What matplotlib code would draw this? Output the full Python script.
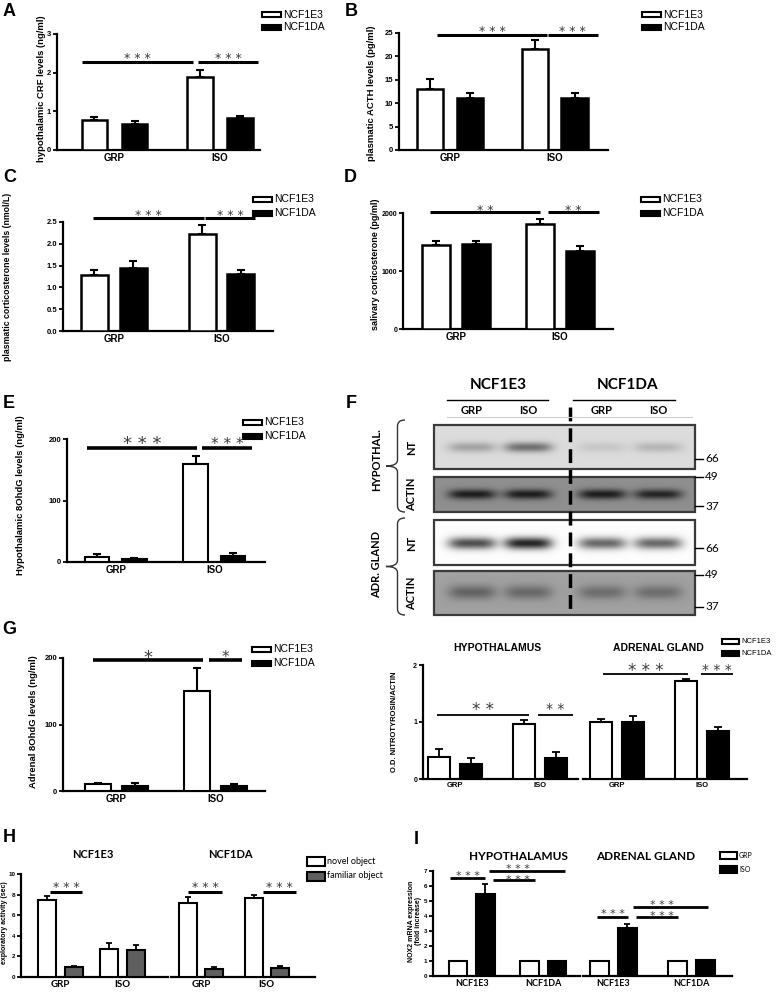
import numpy as np
import matplotlib
matplotlib.use("Agg")
import matplotlib.pyplot as plt
import matplotlib.transforms as mtransforms
from matplotlib.patches import Rectangle, PathPatch
from matplotlib.path import Path

W, H = 777, 999
plt.rcParams['font.family'] = ['Liberation Sans', 'DejaVu Sans']

# ------------------------------------------------------------------ data
stress_groups = ["GRP", "ISO"]
strain_names = ["NCF1E3", "NCF1DA"]
legend_strain = ["NCF1E3", "NCF1DA"]

crf_e3, crf_e3_err = [0.78, 1.88], [0.08, 0.20]
crf_da, crf_da_err = [0.67, 0.83], [0.08, 0.06]

acth_e3, acth_e3_err = [13.0, 21.5], [2.2, 2.0]
acth_da, acth_da_err = [11.1, 11.1], [1.0, 1.0]

cort_e3, cort_e3_err = [1.28, 2.22], [0.13, 0.20]
cort_da, cort_da_err = [1.45, 1.30], [0.15, 0.11]

saliv_e3, saliv_e3_err = [1450, 1810], [60, 90]
saliv_da, saliv_da_err = [1470, 1350], [40, 80]

hypo8_e3, hypo8_e3_err = [8, 160], [5, 13]
hypo8_da, hypo8_da_err = [5, 10], [2, 4]

adr8_e3, adr8_e3_err = [10, 150], [2, 35]
adr8_da, adr8_da_err = [7, 8], [5, 3]

nt_hypo_e3, nt_hypo_e3_err = [0.38, 0.96], [0.15, 0.07]
nt_hypo_da, nt_hypo_da_err = [0.26, 0.36], [0.11, 0.12]
nt_adr_e3, nt_adr_e3_err = [1.00, 1.72], [0.06, 0.04]
nt_adr_da, nt_adr_da_err = [1.00, 0.84], [0.10, 0.07]

# western blot band darkness (lanes: E3 GRP, E3 ISO, DA GRP, DA ISO)
blot_lanes = ["GRP", "ISO", "GRP", "ISO"]
blot_nt_hypo = [0.22, 0.42, 0.08, 0.15]
blot_actin_hypo = [0.45, 0.45, 0.45, 0.42]
blot_nt_adr = [0.68, 0.85, 0.58, 0.58]
blot_actin_adr = [0.24, 0.22, 0.20, 0.20]
mw_markers = ["66", "49", "37", "66", "49", "37"]

nor_labels = ["novel object", "familiar object"]
nor_e3_novel, nor_e3_novel_err = [7.5, 2.7], [0.35, 0.6]
nor_e3_fam, nor_e3_fam_err = [0.95, 2.6], [0.15, 0.5]
nor_da_novel, nor_da_novel_err = [7.2, 7.65], [0.55, 0.35]
nor_da_fam, nor_da_fam_err = [0.8, 0.9], [0.15, 0.15]

nox_strains = ["NCF1E3", "NCF1DA"]
nox_legend = ["GRP", "ISO"]
nox_hypo_grp, nox_hypo_grp_err = [1.0, 1.0], [0.0, 0.0]
nox_hypo_iso, nox_hypo_iso_err = [5.5, 1.0], [0.65, 0.0]
nox_adr_grp, nox_adr_grp_err = [1.0, 1.0], [0.0, 0.0]
nox_adr_iso, nox_adr_iso_err = [3.2, 1.05], [0.3, 0.0]

# ------------------------------------------------------------------ figure
fig = plt.figure(figsize=(W / 100, H / 100), dpi=100)
ov = fig.add_axes([0, 0, 1, 1])
ov.set_xlim(0, W)
ov.set_ylim(H, 0)
ov.axis('off')
ov.set_zorder(-1)


def add_ax(x0, y0, x1, y1):
    ax = fig.add_axes([x0 / W, 1 - y1 / H, (x1 - x0) / W, (y1 - y0) / H])
    ax.patch.set_visible(False)
    return ax


def style(ax, xlim, ymax, yticks=None, ytl=None, lw=1.6, tfs=5.5, xlabels=None,
          xfs=7, xfont=None, show_left=True):
    ax.set_xlim(*xlim)
    ax.set_ylim(0, ymax)
    ax.spines['top'].set_visible(False)
    ax.spines['right'].set_visible(False)
    ax.spines['bottom'].set_linewidth(lw)
    if show_left:
        ax.spines['left'].set_linewidth(lw)
        ax.set_yticks(yticks)
        if ytl is not None:
            ax.set_yticklabels(ytl)
        ax.tick_params(axis='y', length=3, width=lw * 0.8, labelsize=tfs, pad=1.2)
        for t in ax.get_yticklabels():
            t.set_fontweight('bold')
    else:
        ax.spines['left'].set_visible(False)
        ax.set_yticks([])
    ax.set_xticks(range(len(xlabels)))
    kw = dict(fontsize=xfs, fontweight='bold')
    if xfont:
        kw['family'] = xfont
    ax.set_xticklabels(xlabels, **kw)
    ax.tick_params(axis='x', length=0, pad=2.5)


def pair_bars(ax, a, a_err, b, b_err, off, width, ca='white', cb='black',
              elw=1.8, errlw=1.5, cap=3):
    idx = np.arange(len(a))
    for vals, errs, col, sgn in ((a, a_err, ca, -1), (b, b_err, cb, 1)):
        x = idx + sgn * off
        ax.errorbar(x, vals, yerr=[np.zeros(len(vals)), errs], fmt='none',
                    ecolor='black', elinewidth=errlw, capsize=cap, capthick=errlw,
                    zorder=2)
        ax.bar(x, vals, width, color=col, edgecolor='black', linewidth=elw, zorder=3)


def sig(ax, x0, x1, y, ty, stars, lw=2.2, fs=9, col='#3a3a3a', tx=None):
    ax.plot([x0, x1], [y, y], color='black', lw=lw, solid_capstyle='butt',
            clip_on=False, zorder=4)
    tr = mtransforms.offset_copy(ax.transData, fig=fig, x=0, y=-0.59 * fs,
                                 units='points')
    if tx is None:
        tx = (x0 + x1) / 2
    ax.text(tx, ty, stars, transform=tr, ha='center', va='baseline', fontsize=fs,
            color=col, family='DejaVu Sans', clip_on=False, zorder=4)


def legend_px(x, ys, labels, colors, pw=19, ph=5, fs=7.5, font=None, lw=1.5, gap=2):
    for y, lab, c in zip(ys, labels, colors):
        ov.add_patch(Rectangle((x, y - ph / 2), pw, ph, facecolor=c,
                               edgecolor='black', lw=lw))
        kw = dict(fontsize=fs, va='center', ha='left')
        if font:
            kw['family'] = font
        ov.text(x + pw + gap, y, lab, **kw)


def letter(x, y, s):
    ov.text(x, y, s, fontsize=13, fontweight='bold', ha='center', va='center')


def ylab(x, y, s, fs=6.8, font=None):
    kw = dict(rotation=90, ha='center', va='center', fontsize=fs, fontweight='bold',
              multialignment='center', linespacing=1.0)
    if font:
        kw['family'] = font
    ov.text(x, y, s, **kw)


# ------------------------------------------------------------------ A
ax = add_ax(57, 34, 260, 150)
pair_bars(ax, crf_e3, crf_e3_err, crf_da, crf_da_err, 0.19, 0.24)
style(ax, (-0.545, 1.379), 3, [0, 1, 2, 3], xlabels=stress_groups)
sig(ax, -0.31, 0.744, 2.28, 2.46, '* * *')
sig(ax, 0.79, 1.36, 2.28, 2.46, '* * *')
legend_px(262, [14.5, 27.5], legend_strain, ['white', 'black'])
ylab(42, 89, "hypothalamic CRF levels (ng/ml)")
letter(9, 12, 'A')

# ------------------------------------------------------------------ B
ax = add_ax(399, 33, 608, 150)
pair_bars(ax, acth_e3, acth_e3_err, acth_da, acth_da_err, 0.19, 0.25)
style(ax, (-0.49, 1.51), 25, [0, 5, 10, 15, 20, 25], xlabels=stress_groups)
sig(ax, -0.127, 0.926, 24.6, 26.1, '* * *')
sig(ax, 0.936, 1.41, 24.6, 26.1, '* * *')
legend_px(642, [14.5, 27.5], legend_strain, ['white', 'black'])
ylab(371, 93, "plasmatic ACTH levels (pg/ml)")
letter(351, 12, 'B')

# ------------------------------------------------------------------ C
ax = add_ax(63, 222, 273, 331)
pair_bars(ax, cort_e3, cort_e3_err, cort_da, cort_da_err, 0.18, 0.25)
style(ax, (-0.47, 1.478), 2.5, [0, 0.5, 1.0, 1.5, 2.0, 2.5],
      ['0.0', '0.5', '1.0', '1.5', '2.0', '2.5'], xlabels=stress_groups)
sig(ax, -0.19, 0.838, 2.59, 2.73, '* * *')
sig(ax, 0.849, 1.31, 2.59, 2.73, '* * *')
legend_px(253, [199.5, 213.5], legend_strain, ['white', 'black'])
ylab(8, 277, "plasmatic corticosterone levels (nmol/L)", fs=6.3)
letter(10, 178, 'C')

# ------------------------------------------------------------------ D
ax = add_ax(403, 213, 613, 329)
pair_bars(ax, saliv_e3, saliv_e3_err, saliv_da, saliv_da_err, 0.19, 0.27)
style(ax, (-0.51, 1.51), 2000, [0, 1000, 2000], xlabels=stress_groups, tfs=5)
sig(ax, -0.25, 0.81, 2017, 2103, '* *')
sig(ax, 0.885, 1.375, 2017, 2103, '* *')
legend_px(641, [199.5, 213.5], legend_strain, ['white', 'black'])
ylab(376, 264, "salivary corticosterone (pg/ml)", fs=6.5)
letter(350, 178, 'D')

# ------------------------------------------------------------------ E
ax = add_ax(67, 439, 265, 562)
pair_bars(ax, hypo8_e3, hypo8_e3_err, hypo8_da, hypo8_da_err, 0.19, 0.25, elw=1.5)
style(ax, (-0.495, 1.515), 200, [0, 100, 200], xlabels=stress_groups)
sig(ax, -0.29, 0.825, 185, 201.6, '* * *', lw=2.6, fs=13)
sig(ax, 0.876, 1.384, 185, 199, '* * *', lw=2.6, fs=11)
legend_px(243, [422, 436], legend_strain, ['white', 'black'])
ylab(21, 495, "Hypothalamic 8OhdG levels (ng/ml)")
letter(9, 403, 'E')

# ------------------------------------------------------------------ G
ax = add_ax(63, 658, 265, 791)
pair_bars(ax, adr8_e3, adr8_e3_err, adr8_da, adr8_da_err, 0.19, 0.26, elw=1.5)
style(ax, (-0.54, 1.50), 200, [0, 100, 200], xlabels=stress_groups)
sig(ax, -0.238, 0.876, 197, 209, '*', lw=2.6, fs=13)
sig(ax, 0.937, 1.27, 197, 207, '*', lw=2.6, fs=11)
legend_px(252, [649.5, 663.5], legend_strain, ['white', 'black'])
ylab(34, 722, "Adrenal 8OhdG levels (ng/ml)")
letter(9, 630, 'G')

# ------------------------------------------------------------------ F (blot)
letter(351, 403, 'F')
lane_x = [472, 528, 602, 658]
bx0, bx1 = 434, 695
boxes = [(425, 469, blot_nt_hypo, 0.86, 447, 5),
         (477, 512, blot_actin_hypo, 0.56, 494, 5),
         (520, 565, blot_nt_adr, 0.99, 543, 6),
         (571, 615, blot_actin_adr, 0.63, 592, 7)]
for (y0, y1, inten, bg, by, sy) in boxes:
    xs = np.arange(bx0, bx1, 0.5)
    ys = np.arange(y0, y1, 0.5)
    X, Y = np.meshgrid(xs, ys)
    img = np.full(X.shape, bg)
    for lx, v in zip(lane_x, inten):
        img -= v * np.exp(-((X - lx) / 24.0) ** 4) * np.exp(-((Y - by) / sy) ** 2)
    ov.imshow(img, cmap='gray', vmin=0, vmax=1, extent=(bx0, bx1, y1, y0),
              aspect='auto', interpolation='bilinear')
    ov.add_patch(Rectangle((bx0, y0), bx1 - bx0, y1 - y0, fill=False,
                           ec='#3a3a3a', lw=1.6))
ov.set_xlim(0, W)
ov.set_ylim(H, 0)

ov.plot([570, 570], [407, 615], color='black', lw=2.5, dashes=(4, 2))
ov.text(498, 385, strain_names[0], fontsize=11, fontweight='bold', family='Lato',
        ha='center', va='center')
ov.text(628, 385, strain_names[1], fontsize=11, fontweight='bold', family='Lato',
        ha='center', va='center')
ov.plot([447, 548], [400, 400], color='black', lw=1)
ov.plot([573, 675], [400, 400], color='black', lw=1)
ov.plot([447, 692], [417, 417], color='#d0d0d0', lw=0.8)
for x, lab in zip(lane_x, blot_lanes):
    ov.text(x, 410, lab, fontsize=8, fontweight='bold', family='Lato',
            ha='center', va='center')
for y, lab in [(447, 'NT'), (494, 'ACTIN'), (543, 'NT'), (593, 'ACTIN')]:
    ov.text(412, y, lab, fontsize=8, fontweight='bold', family='Lato', rotation=90,
            ha='center', va='center')


def brace(xt, xe, yt, yb, r=6):
    ym = (yt + yb) / 2
    xm = (xt + xe) / 2 + 2
    verts = [(xe, yt), (xm, yt), (xm, yt + r), (xm, ym - r), (xm, ym), (xt, ym),
             (xm, ym), (xm, ym + r), (xm, yb - r), (xm, yb), (xe, yb)]
    codes = [Path.MOVETO, Path.CURVE3, Path.CURVE3, Path.LINETO, Path.CURVE3,
             Path.CURVE3, Path.CURVE3, Path.CURVE3, Path.LINETO, Path.CURVE3,
             Path.CURVE3]
    ov.add_patch(PathPatch(Path(verts, codes), fill=False, lw=1.0, ec='#333333'))


brace(386, 405, 420, 512)
brace(386, 405, 518, 615)
ov.text(377, 460, "HYPOTHAL.", fontsize=8, fontweight='bold', family='Lato',
        rotation=90, ha='center', va='center')
ov.text(377, 565, "ADR. GLAND", fontsize=8, fontweight='bold', family='Lato',
        rotation=90, ha='center', va='center')
for y, lab in zip([459, 477, 506, 548, 575, 607], mw_markers):
    ov.plot([695, 703], [y, y], color='black', lw=1)
    ov.text(705, y, lab, fontsize=8.5, family='Lato', ha='left', va='center')

# ------------------------------------------------------------------ F (densitometry)
ax1 = add_ax(423, 665, 578, 779)
pair_bars(ax1, nt_hypo_e3, nt_hypo_e3_err, nt_hypo_da, nt_hypo_da_err, 0.188, 0.26,
          elw=1.5, errlw=1.3)
style(ax1, (-0.375, 1.443), 2, [0, 1, 2], xlabels=stress_groups, xfs=5.5, tfs=5)
sig(ax1, -0.21, 0.868, 1.12, 1.30, '* *', lw=1.3, fs=12)
sig(ax1, 0.97, 1.38, 1.12, 1.30, '* *', lw=1.3, fs=10)
ax2 = add_ax(583, 665, 747, 779)
pair_bars(ax2, nt_adr_e3, nt_adr_e3_err, nt_adr_da, nt_adr_da_err, 0.188, 0.26,
          elw=1.5, errlw=1.3)
style(ax2, (-0.4, 1.525), 2, xlabels=stress_groups, xfs=5.5, show_left=False)
sig(ax2, -0.164, 0.833, 1.84, 1.98, '* * *', lw=1.3, fs=12)
sig(ax2, 0.985, 1.36, 1.84, 1.98, '* * *', lw=1.3, fs=10)
ov.text(497, 648, "HYPOTHALAMUS", fontsize=7.5, fontweight='bold', ha='center', va='center')
ov.text(658, 648, "ADRENAL GLAND", fontsize=7.5, fontweight='bold', ha='center', va='center')
legend_px(722, [641.5, 653.5], legend_strain, ['white', 'black'], pw=17, ph=5, fs=5.5)
ylab(395, 722, "O.D. NITROTYROSIN/ACTIN", fs=5.5)

# ------------------------------------------------------------------ H
fam_col = '#5f5f5f'
ax1 = add_ax(21, 874, 168, 977)
pair_bars(ax1, nor_e3_novel, nor_e3_novel_err, nor_e3_fam, nor_e3_fam_err, 0.217, 0.29,
          cb=fam_col, elw=1.5, errlw=1.3, cap=2.5)
style(ax1, (-0.635, 1.727), 10, [0, 2, 4, 6, 8, 10], xlabels=stress_groups, xfs=7,
      xfont='Lato', tfs=4.5)
sig(ax1, -0.17, 0.345, 8.25, 9.1, '* * *', lw=2.2, fs=9)
ax2 = add_ax(171, 874, 315, 977)
pair_bars(ax2, nor_da_novel, nor_da_novel_err, nor_da_fam, nor_da_fam_err, 0.2, 0.275,
          cb=fam_col, elw=1.5, errlw=1.3, cap=2.5)
style(ax2, (-0.46, 1.737), 10, xlabels=stress_groups, xfs=7, xfont='Lato',
      show_left=False)
sig(ax2, -0.2, 0.317, 8.25, 9.1, '* * *', lw=2.2, fs=9)
sig(ax2, 0.94, 1.446, 8.25, 9.1, '* * *', lw=2.2, fs=9)
ov.text(93, 855, strain_names[0], fontsize=8, fontweight='bold', family='Lato',
        ha='center', va='center')
ov.text(230, 855, strain_names[1], fontsize=8, fontweight='bold', family='Lato',
        ha='center', va='center')
legend_px(307, [861.5, 876], nor_labels, ['white', fam_col], pw=18, ph=9, fs=6.5,
          font='Lato')
ylab(5, 923, "exploratory activity (sec)", fs=5)
letter(9, 838, 'H')

# ------------------------------------------------------------------ I
ax1 = add_ax(433, 871, 580, 976)
pair_bars(ax1, nox_hypo_grp, nox_hypo_grp_err, nox_hypo_iso, nox_hypo_iso_err, 0.19,
          0.26, elw=1.5, errlw=1.3, cap=2.5)
style(ax1, (-0.54, 1.51), 7, list(range(8)), xlabels=nox_strains, xfs=6.5,
      xfont='Lato', tfs=4.5)
sig(ax1, -0.303, 0.185, 6.53, 6.9, '* * *', lw=2.0, fs=8)
sig(ax1, 0.24, 1.3, 7.0, 7.4, '* * *', lw=2.0, fs=8, tx=0.645)
sig(ax1, 0.296, 0.88, 6.4, 6.67, '* * *', lw=2.0, fs=8, tx=0.645)
ax2 = add_ax(583, 871, 732, 976)
pair_bars(ax2, nox_adr_grp, nox_adr_grp_err, nox_adr_iso, nox_adr_iso_err, 0.18,
          0.245, elw=1.5, errlw=1.3, cap=2.5)
style(ax2, (-0.388, 1.52), 7, xlabels=nox_strains, xfs=6.5, xfont='Lato',
      show_left=False)
sig(ax2, -0.21, 0.19, 3.93, 4.4, '* * *', lw=2.0, fs=8)
sig(ax2, 0.254, 1.215, 4.6, 5.0, '* * *', lw=2.0, fs=8, tx=0.625)
sig(ax2, 0.29, 0.83, 3.93, 4.27, '* * *', lw=2.0, fs=8, tx=0.625)
ov.text(518, 856, "HYPOTHALAMUS", fontsize=8.5, fontweight='bold', family='Lato',
        ha='center', va='center')
ov.text(646, 856, "ADRENAL GLAND", fontsize=8.5, fontweight='bold', family='Lato',
        ha='center', va='center')
legend_px(720, [855.5, 869], nox_legend, ['white', 'black'], pw=17, ph=7, fs=5,
          font='Lato')
ylab(415, 921, "NOX2 mRNA expression\n(fold increase)", fs=5)
letter(416, 840, 'I')

fig.savefig('out.png', dpi=100)
